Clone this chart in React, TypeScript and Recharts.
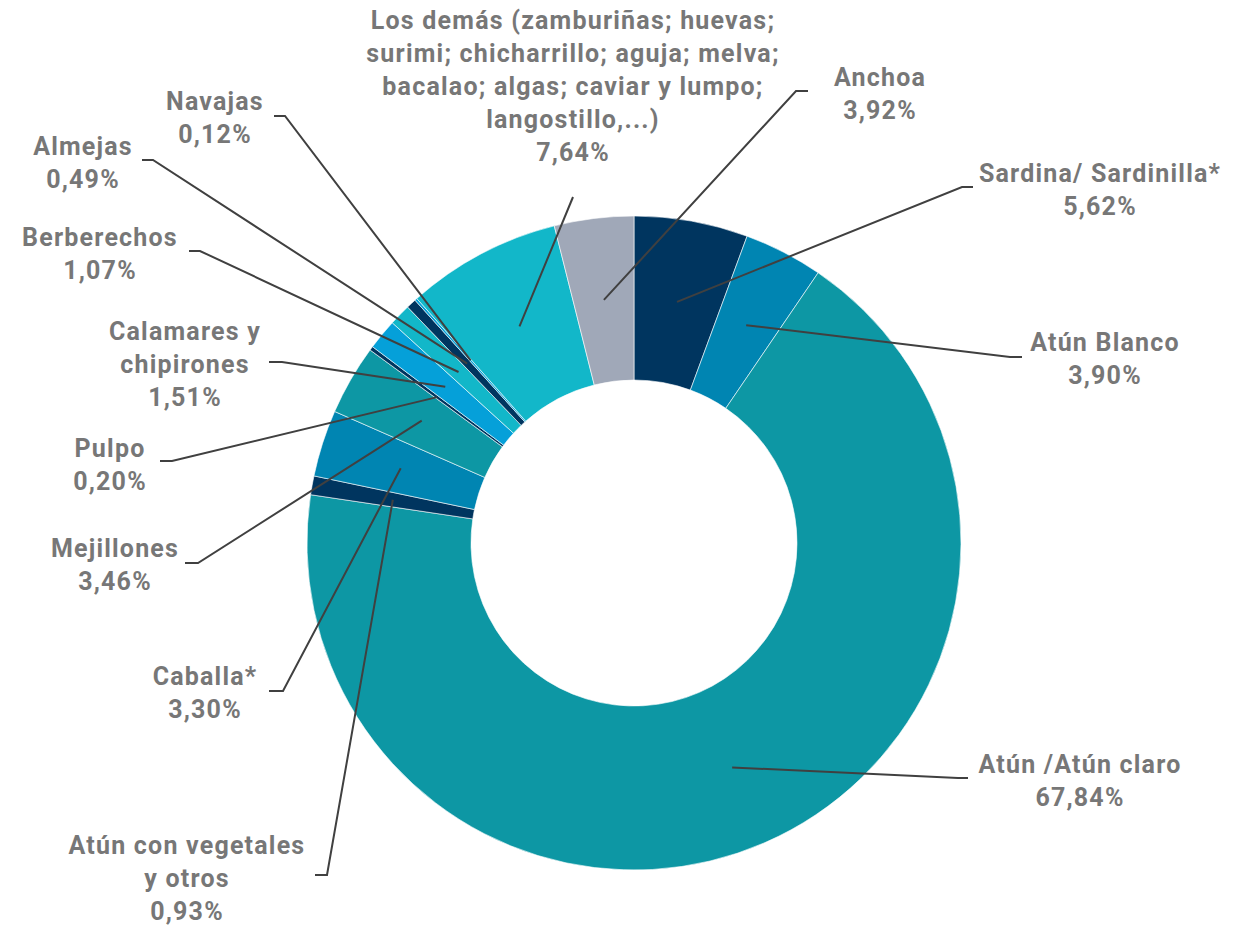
import React from "react";
import { PieChart, Pie, Cell } from "recharts";

const categories = [
  "Sardina/ Sardinilla*",
  "Atún Blanco",
  "Atún /Atún claro",
  "Atún con vegetales y otros",
  "Caballa*",
  "Mejillones",
  "Pulpo",
  "Calamares y chipirones",
  "Berberechos",
  "Almejas",
  "Navajas",
  "Los demás",
  "Anchoa",
];

const values = [5.62, 3.9, 67.84, 0.93, 3.3, 3.46, 0.2, 1.51, 1.07, 0.49, 0.12, 7.64, 3.92];

const labelLines = [
  ["Sardina/ Sardinilla*"],
  ["Atún Blanco"],
  ["Atún /Atún claro"],
  ["Atún con vegetales", "y otros"],
  ["Caballa*"],
  ["Mejillones"],
  ["Pulpo"],
  ["Calamares y", "chipirones"],
  ["Berberechos"],
  ["Almejas"],
  ["Navajas"],
  [
    "Los demás (zamburiñas; huevas;",
    "surimi; chicharrillo; aguja; melva;",
    "bacalao; algas; caviar y lumpo;",
    "langostillo,...)",
  ],
  ["Anchoa"],
];

const NAVY = "#00355f";
const BLUE = "#0085b2";
const TEAL = "#0d97a4";
const BRIGHT = "#05a0d9";
const CYAN = "#12b7c9";
const GREY = "#a0a8b8";

const colors = [NAVY, BLUE, TEAL, NAVY, BLUE, TEAL, NAVY, BRIGHT, CYAN, NAVY, BRIGHT, CYAN, GREY];

// label layout: text center x, first line center y, elbow point, end of horizontal tick
const labelLayout = [
  { tx: 1100, ty: 173, ex: 962, ey: 187, hx: 973 },
  { tx: 1105, ty: 342, ex: 1010, ey: 357, hx: 1022 },
  { tx: 1080, ty: 764, ex: 958, ey: 778, hx: 968 },
  { tx: 187, ty: 845, ex: 327, ey: 875, hx: 315 },
  { tx: 205, ty: 676, ex: 283, ey: 691, hx: 269 },
  { tx: 115, ty: 548, ex: 198, ey: 563, hx: 185 },
  { tx: 110, ty: 448, ex: 172, ey: 461, hx: 160 },
  { tx: 185, ty: 331, ex: 282, ey: 362, hx: 269 },
  { tx: 100, ty: 237, ex: 200, ey: 251, hx: 189 },
  { tx: 83, ty: 146, ex: 153, ey: 160, hx: 142 },
  { tx: 215, ty: 101, ex: 285, ey: 116, hx: 274 },
  { tx: 573, ty: 20, ex: 573, ey: 197, hx: 573 },
  { tx: 880, ty: 77, ex: 796, ey: 91, hx: 808 },
];

const data = categories.map((name, i) => ({ name, value: values[i] }));

const RAD = Math.PI / 180;
const LINE_H = 33;

const renderLabel = (props: any) => {
  const { cx, cy, midAngle, innerRadius, outerRadius, index, value } = props;
  const r = (Number(innerRadius) + Number(outerRadius)) / 2;
  const px = Number(cx) + r * Math.cos(-midAngle * RAD);
  const py = Number(cy) + r * Math.sin(-midAngle * RAD);
  const L = labelLayout[index];
  const lines = [...labelLines[index], value.toFixed(2).replace(".", ",") + "%"];
  return (
    <g key={`lbl-${index}`}>
      <polyline
        points={`${px},${py} ${L.ex},${L.ey} ${L.hx},${L.ey}`}
        fill="none"
        stroke="#404040"
        strokeWidth={2}
      />
      {lines.map((t, j) => (
        <text
          key={j}
          x={L.tx}
          y={L.ty + j * LINE_H}
          textAnchor="middle"
          dominantBaseline="central"
          fill="#777777"
          fontFamily="Roboto, 'Open Sans', sans-serif"
          fontWeight={700}
          fontSize={25}
          letterSpacing={1.2}
        >
          {t}
        </text>
      ))}
    </g>
  );
};

export default function App() {
  return (
    <div style={{ position: "absolute", left: 0, top: 0, width: 1250, height: 926, background: "#fff" }}>
      <PieChart width={1250} height={926} margin={{ top: 0, right: 0, bottom: 0, left: 0 }}>
        <Pie
          data={data}
          dataKey="value"
          nameKey="name"
          cx={634}
          cy={543}
          innerRadius={163}
          outerRadius={327}
          startAngle={90}
          endAngle={-270}
          stroke="#ffffff"
          strokeWidth={0.6}
          isAnimationActive={false}
          labelLine={false}
          label={renderLabel}
        >
          {data.map((d, i) => (
            <Cell key={d.name} fill={colors[i]} />
          ))}
        </Pie>
      </PieChart>
    </div>
  );
}
